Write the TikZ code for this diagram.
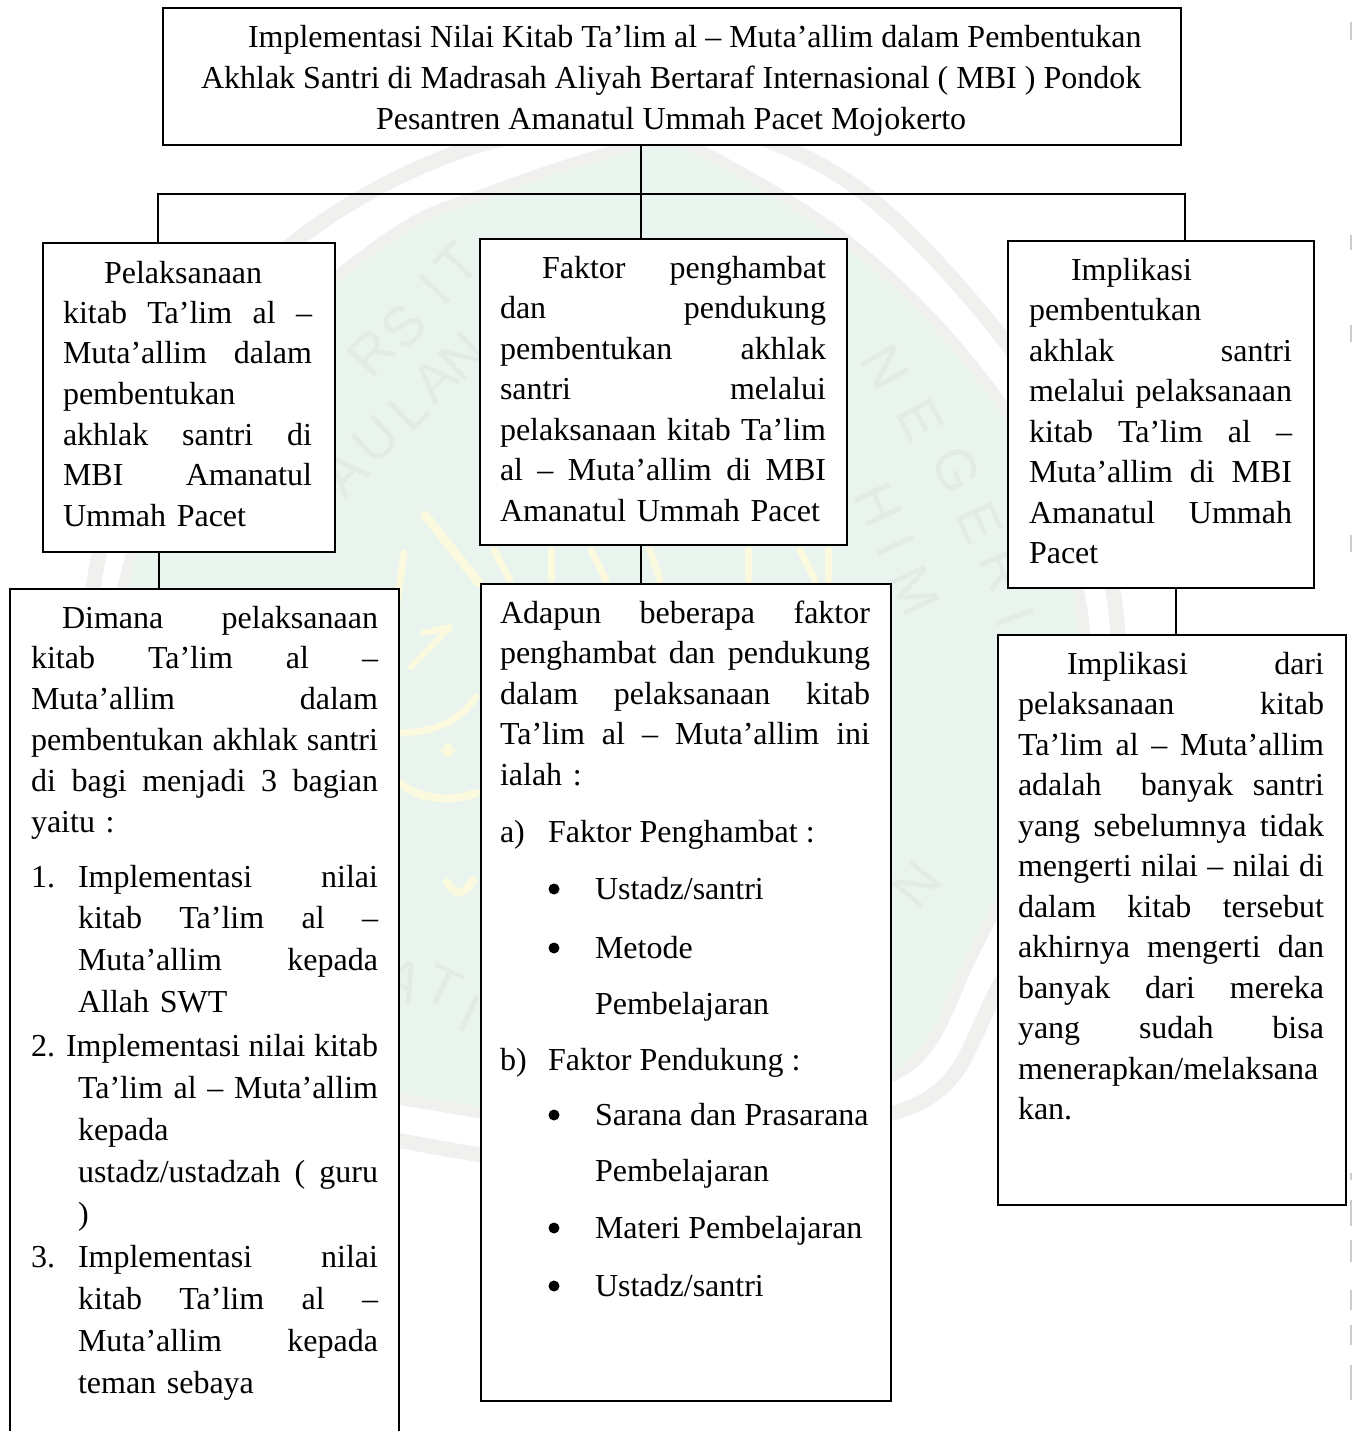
\documentclass[tikz,border=0pt]{standalone}
\usepackage{fontspec}
\setmainfont{Liberation Serif}
\newfontfamily\wmfont{Liberation Sans}
\definecolor{wmgreen}{HTML}{E9F4EE}
\definecolor{wmgrey}{HTML}{F0F0EF}
\definecolor{wmletter}{HTML}{E4EBE6}
\definecolor{wmyellow}{HTML}{FBFADF}
\newcommand\Jline[2][0pt]{\hbox to \hsize{\rule{0pt}{24pt}\hskip#1\spaceskip=.25em plus 1fil minus .03em\relax #2\unskip}}
\newcommand\Lline[2][0pt]{\hbox to \hsize{\rule{0pt}{24pt}\hskip#1\relax #2\hfil}}
\tikzset{
  frame/.style={draw=black,fill=white,line width=1.6pt,anchor=north west,inner sep=0pt},
  conn/.style={draw=black,line width=1.6pt},
  txt/.style={anchor=base west,inner sep=0pt,outer sep=0pt,font=\fontsize{32}{40.5}\selectfont},
  blk/.style={anchor=north west,inner sep=0pt,outer sep=0pt,font=\fontsize{32}{#1}\selectfont},
  blk/.default=40.5,
  wm/.style={text=wmletter,inner sep=0pt,font=\wmfont\fontsize{56}{56}\selectfont},
  yel/.style={draw=wmyellow,line cap=round,line join=round},
}
\begin{document}
\begin{tikzpicture}[x=1pt,y=-1pt]
\useasboundingbox (0,0) rectangle (1352,1431);
% watermark
\draw[wmgrey,line width=15pt,line join=round] plot[smooth cycle,tension=.6] coordinates {(612,120) (450,155) (297,240) (170,370) (96,570) (100,780) (180,990) (270,1100) (440,1148) (600,1160) (800,1130) (933,1095) (997,990) (1090,790) (1118,640) (1080,470) (1000,335) (860,190) (720,125)};
\draw[wmgrey,fill=wmgreen,line width=11pt] plot[smooth cycle,tension=.6] coordinates {(655,140) (500,188) (385,240) (230,380) (127,570) (135,770) (210,970) (300,1070) (440,1106) (600,1122) (800,1095) (913,1063) (975,950) (1060,770) (1085,640) (1045,480) (960,350) (840,235) (700,150)};
\foreach \n/\l/\x/\y/\r in {a/R/372/353/46,b/S/404/327/46,c/I/435/290/46,d/T/458/264/46,e/A/345/473/44,f/U/376/440/44,g/L/408/410/44,h/A/435/380/44,i/N/463/357/44,j/N/885/367/-60,k/E/920/420/-62,l/G/956/470/-64,m/E/980/523/-66,n/R/1004/570/-68,o/I/1015/617/-70,p/H/878/505/-65,q/I/896/545/-65,r/M/915/590/-65,s/N/917/885/50,t/A/403/980/-25,u/T/443/987/-25,v/I/470/1013/-25}{
  \node[wm,rotate=\r] (wm\n) at (\x,\y) {\l};
}
\draw[yel,line width=9pt] (425,515) -- (479,583);
\draw[yel,line width=7pt] (404,553) -- (392,640);
\draw[yel,line width=7pt] (400,733) .. controls (438,732) and (460,720) .. (476,697);
\draw[yel,line width=8pt] (400,783) .. controls (420,800) and (450,802) .. (476,793);
\fill[wmyellow] (448,742) -- (456,750) -- (448,758) -- (440,750) -- cycle;
\draw[yel,line width=6pt] (423,633) -- (450,627) -- (411,667);
\draw[yel,line width=8pt] (447,882) .. controls (455,897) and (465,895) .. (473,880);
\foreach \x/\z in {494/510,551/551,591/606,650/660,748/748,800/815,828/828}{\draw[yel,line width=7pt] (\x,550) -- (\z,580);}
% right-edge specks
\foreach \a/\b in {22/40,235/250,325/342,535/552,1173/1180,1200/1226,1240/1262,1290/1310,1325/1345,1365/1400}{\draw[gray!40,line width=2pt] (1351,\a) -- (1351,\b);}
% boxes
\node[frame,minimum width=1018pt,minimum height=137pt] (top) at (162,7) {};
\node[frame,minimum width=292pt,minimum height=309pt] (ml) at (42,242) {};
\node[frame,minimum width=367pt,minimum height=306pt] (mc) at (479,238) {};
\node[frame,minimum width=306pt,minimum height=347pt] (mr) at (1007,240) {};
\node[frame,minimum width=389pt,minimum height=860pt] (ll) at (9,588) {};
\node[frame,minimum width=410pt,minimum height=817pt] (lc) at (480,583) {};
\node[frame,minimum width=348pt,minimum height=570pt] (lr) at (997,634) {};
% connectors
\coordinate (j) at (641,194);
\coordinate (jl) at (158,194);
\coordinate (jr) at (1185,194);
\coordinate (dl) at (159,570);
\coordinate (dc) at (641,570);
\coordinate (dr) at (1176,610);
\draw[conn] (top.south -| j) -- (j) -- (mc.north -| j);
\draw[conn] (ml.north -| jl) -- (jl) -- (jr) -- (mr.north -| jr);
\draw[conn] (ml.south -| dl) -- (ll.north -| dl);
\draw[conn] (mc.south -| dc) -- (lc.north -| dc);
\draw[conn] (mr.south -| dr) -- (lr.north -| dr);
% top text
\node[txt] (t1) at (248,48) {Implementasi Nilai Kitab Ta’lim al – Muta’allim dalam Pembentukan};
\node[txt] (t2) at (201,89) {Akhlak Santri di Madrasah Aliyah Bertaraf Internasional ( MBI ) Pondok};
\node[txt] (t3) at (376,130) {Pesantren Amanatul Ummah Pacet Mojokerto};
% middle left
\node[blk,text width=249pt] (a) at (63,259) {%
\Lline[41pt]{Pelaksanaan}
\Jline{kitab Ta’lim al –}
\Jline{Muta’allim dalam}
\Lline{pembentukan}
\Jline{akhlak santri di}
\Jline{MBI Amanatul}
\Lline{Ummah Pacet}};
% middle centre
\node[blk,text width=326pt] (b) at (500,254) {%
\Jline[42pt]{Faktor penghambat}
\Jline{dan pendukung}
\Jline{pembentukan akhlak}
\Jline{santri melalui}
\Jline{pelaksanaan kitab Ta’lim}
\Jline{al – Muta’allim di MBI}
\Lline{Amanatul Ummah Pacet}};
% middle right
\node[blk,text width=263pt] (c) at (1029,256) {%
\Lline[42pt]{Implikasi}
\Lline{pembentukan}
\Jline{akhlak santri}
\Jline{melalui pelaksanaan}
\Jline{kitab Ta’lim al –}
\Jline{Muta’allim di MBI}
\Jline{Amanatul Ummah}
\Lline{Pacet}};
% lower left intro
\node[blk=40.8,text width=347pt] (d) at (31,604) {%
\Jline[31pt]{Dimana pelaksanaan}
\Jline{kitab Ta’lim al –}
\Jline{Muta’allim dalam}
\Jline{pembentukan akhlak santri}
\Jline{di bagi menjadi 3 bagian}
\Lline{yaitu :}};
\node[txt] (n1) at (31,887) {1.};
\node[blk=41.8,text width=300pt] (e) at (78,863) {%
\Jline{Implementasi nilai}
\Jline{kitab Ta’lim al –}
\Jline{Muta’allim kepada}
\Lline{Allah SWT}};
\node[txt] (n2) at (31,1056) {2.};
\node[blk,text width=312pt] (f0) at (66,1032) {\Jline{Implementasi nilai kitab}};
\node[blk=42.2,text width=300pt] (f) at (78,1074) {%
\Jline{Ta’lim al – Muta’allim}
\Lline{kepada}
\Jline{ustadz/ustadzah ( guru}
\Lline{)}};
\node[txt] (n3) at (31,1267) {3.};
\node[blk=42.2,text width=300pt] (g) at (78,1243) {%
\Jline{Implementasi nilai}
\Jline{kitab Ta’lim al –}
\Jline{Muta’allim kepada}
\Lline{teman sebaya}};
% lower centre
\node[blk,text width=370pt] (h) at (500,599) {%
\Jline{Adapun beberapa faktor}
\Jline{penghambat dan pendukung}
\Jline{dalam pelaksanaan kitab}
\Jline{Ta’lim al – Muta’allim ini}
\Lline{ialah :}};
\node[txt] (i1) at (500,842) {a)};
\node[txt] (i2) at (548,842) {Faktor Penghambat :};
\node[txt] (i3) at (500,1070) {b)};
\node[txt] (i4) at (548,1070) {Faktor Pendukung :};
\foreach \n/\y/\s in {a/899/Ustadz\slash santri,b/958/Metode,c/1125/Sarana dan Prasarana,d/1238/Materi Pembelajaran,e/1296/Ustadz\slash santri}{
  \fill (554,\y-10) circle (5.5pt);
  \node[txt] (bul\n) at (595,\y) {\s};
}
\node[txt] (p1) at (595,1014) {Pembelajaran};
\node[txt] (p2) at (595,1181) {Pembelajaran};
% lower right
\node[blk,text width=306pt] (k) at (1018,650) {%
\Jline[49pt]{Implikasi dari}
\Jline{pelaksanaan kitab}
\Jline{Ta’lim al – Muta’allim}
\Jline{adalah \ banyak santri}
\Jline{yang sebelumnya tidak}
\Jline{mengerti nilai – nilai di}
\Jline{dalam kitab tersebut}
\Jline{akhirnya mengerti dan}
\Jline{banyak dari mereka}
\Jline{yang sudah bisa}
\Lline{menerapkan/melaksana}
\Lline{kan.}};
\end{tikzpicture}
\end{document}
